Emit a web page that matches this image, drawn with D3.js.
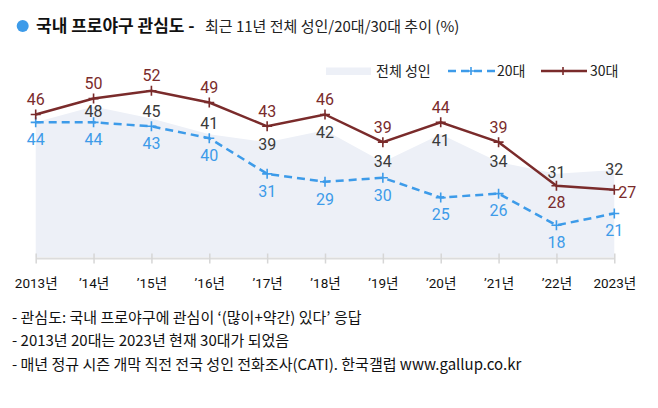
<!DOCTYPE html>
<html><head><meta charset="utf-8">
<script src="https://cdn.jsdelivr.net/npm/d3@7"></script>
<style>
html,body{margin:0;padding:0;background:#fff;}
svg{display:block;font-family:"Noto Sans CJK KR","Noto Sans",sans-serif;}
.num{font-family:Roboto,"Noto Sans CJK KR",sans-serif;}
</style></head>
<body>
<svg id="chart" width="658" height="408"></svg>
<script>
const years = [2013,2014,2015,2016,2017,2018,2019,2020,2021,2022,2023];
const tickLabels = ["2013년","’14년","’15년","’16년","’17년","’18년","’19년","’20년","’21년","’22년","2023년"];
const allAdults = [44,48,45,41,39,42,34,41,34,31,32];
const age20s = [44,44,43,40,31,29,30,25,26,18,21];
const age30s = [46,50,52,49,43,46,39,44,39,28,27];
const seriesNames = ["전체 성인","20대","30대"];
const titleMain = "국내 프로야구 관심도 -";
const titleSub = "최근 11년 전체 성인/20대/30대 추이 (%)";
const notes = [
  "- 관심도: 국내 프로야구에 관심이 ‘(많이+약간) 있다’ 응답",
  "- 2013년 20대는 2023년 현재 30대가 되었음",
  "- 매년 정규 시즌 개막 직전 전국 성인 전화조사(CATI). 한국갤럽 www.gallup.co.kr"
];

const RED = "#7a2b2b", BLUE = "#3d9be9", AREA = "#edf0f7", GRAY = "#3a3a3a";
const svg = d3.select("#chart");

const x = d3.scalePoint().domain(years).range([35.7, 614.3]);
const y = d3.scaleLinear().domain([10, 60]).range([257, 59]);

// title
svg.append("circle").attr("cx", 22.7).attr("cy", 26).attr("r", 6).attr("fill", BLUE);
svg.append("text").attr("x", 36).attr("y", 32).attr("font-size", 17).attr("font-weight", "bold")
  .attr("fill", "#111").text(titleMain);
svg.append("text").attr("x", 205).attr("y", 32).attr("font-size", 15).attr("fill", "#222").text(titleSub);

// area
const area = d3.area().x((d,i)=>x(years[i])).y0(y(10)).y1(d=>y(d));
svg.append("path").datum(allAdults).attr("d", area).attr("fill", AREA);

// axis
const axis = d3.axisBottom(x).tickSize(0).tickFormat((d,i)=>tickLabels[i]);
const gx = svg.append("g").attr("transform", "translate(0,258)").call(axis);
gx.select(".domain").attr("stroke", "#dcdcdc").attr("stroke-width", 2);
gx.selectAll(".tick").append("line").attr("y1", -4.5).attr("y2", 5.5).attr("stroke", "#d6d6d6").attr("stroke-width", 1.5);
gx.selectAll(".tick text").attr("y", 29.5).attr("dy", 0).attr("font-size", 13.5).attr("fill", "#111")
  .attr("font-family", "Roboto,'Noto Sans CJK KR',sans-serif");

// lines
const line = d3.line().x((d,i)=>x(years[i])).y(d=>y(d));
svg.append("path").datum(age20s).attr("d", line).attr("fill", "none").attr("stroke", BLUE)
  .attr("stroke-width", 2.5).attr("stroke-dasharray", "8,5");
svg.append("path").datum(age30s).attr("d", line).attr("fill", "none").attr("stroke", RED)
  .attr("stroke-width", 2.5);

function plus(g, cx, cy, color, s) {
  g.append("path").attr("d", `M${cx-s},${cy}H${cx+s}M${cx},${cy-s}V${cy+s}`)
    .attr("stroke", color).attr("stroke-width", 1.6).attr("fill", "none");
}
const mk = svg.append("g");
age20s.forEach((v,i)=>plus(mk, x(years[i]), y(v), BLUE, 5));
age30s.forEach((v,i)=>plus(mk, x(years[i]), y(v), RED, 5));

// labels
const lab = svg.append("g").attr("class", "num").attr("font-size", 16).attr("text-anchor", "middle");
allAdults.forEach((v,i)=>{
  if (i === 0) return;
  const r = y(age30s[i]), b = y(age20s[i]);
  let ly = y(v) - 1;
  const redAbove = r < ly;
  if (redAbove) ly = Math.max(ly, r + 18); else ly = Math.min(ly, r - 13);
  if (b > ly) ly = Math.min(ly, b - 15);
  if (redAbove && b > r && (b - r) < 30) ly = (r + b) / 2 + 1;
  lab.append("text").attr("x", x(years[i])).attr("y", ly).attr("dy", "0.36em").attr("fill", GRAY).text(v);
});
age20s.forEach((v,i)=>{
  lab.append("text").attr("x", x(years[i])).attr("y", y(v) + 17).attr("dy", "0.36em").attr("fill", BLUE).text(v);
});
age30s.forEach((v,i)=>{
  const below = v < allAdults[i];
  const last = i === years.length - 1;
  const t = lab.append("text").attr("fill", RED).attr("dy", "0.36em").text(v);
  if (below && last) t.attr("x", x(years[i]) + 4).attr("y", y(v) + 3).attr("text-anchor", "start");
  else if (below) t.attr("x", x(years[i])).attr("y", y(v) + 17);
  else t.attr("x", x(years[i])).attr("y", y(v) - 15);
});

// legend
const lg = svg.append("g").attr("font-size", 14).attr("fill", "#222");
lg.append("rect").attr("x", 326).attr("y", 67.5).attr("width", 45).attr("height", 7.5).attr("fill", AREA);
lg.append("text").attr("x", 376).attr("y", 76).text(seriesNames[0]);
lg.append("line").attr("x1", 448).attr("x2", 495).attr("y1", 71).attr("y2", 71).attr("stroke", BLUE)
  .attr("stroke-width", 2.5).attr("stroke-dasharray", "8,5");
plus(lg, 471, 71, BLUE, 4);
lg.append("text").attr("x", 497).attr("y", 76).text(seriesNames[1]);
lg.append("line").attr("x1", 541).attr("x2", 587).attr("y1", 71).attr("y2", 71).attr("stroke", RED).attr("stroke-width", 2.5);
plus(lg, 563, 71, RED, 4);
lg.append("text").attr("x", 590).attr("y", 76).text(seriesNames[2]);

// notes
const nt = svg.append("g").attr("font-size", 15).attr("fill", "#111");
notes.forEach((s,i)=>nt.append("text").attr("x", 12).attr("y", 322.5 + i*23.5).text(s));
</script>
</body></html>
